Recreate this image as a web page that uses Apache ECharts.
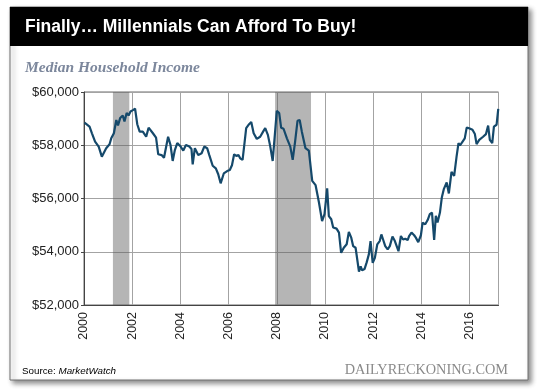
<!DOCTYPE html>
<html>
<head>
<meta charset="utf-8">
<script src="https://cdn.jsdelivr.net/npm/echarts@6/dist/echarts.min.js"></script>
<style>
html,body{margin:0;padding:0;background:#fff;}
#chart{width:540px;height:389px;}
</style>
</head>
<body>
<div id="chart"></div>
<script>
// Decimal years (x)
const years = [
2000.02,2000.23,2000.33,2000.46,2000.61,2000.74,2000.81,2000.92,2001.06,2001.13,
2001.24,2001.34,2001.41,2001.50,2001.61,2001.68,2001.77,2001.85,2001.93,2002.03,
2002.12,2002.21,2002.31,2002.44,2002.58,2002.68,2002.86,2002.99,2003.08,2003.22,
2003.32,2003.49,2003.59,2003.68,2003.77,2003.87,2004.01,2004.12,2004.23,2004.37,
2004.46,2004.51,2004.60,2004.74,2004.88,2004.99,2005.11,2005.20,2005.34,2005.47,
2005.57,2005.67,2005.80,2005.94,2006.05,2006.14,2006.23,2006.32,2006.41,2006.48,
2006.58,2006.66,2006.73,2006.85,2006.94,2007.04,2007.17,2007.31,2007.45,2007.52,
2007.63,2007.73,2007.83,2007.93,2008.00,2008.10,2008.18,2008.28,2008.42,2008.56,
2008.66,2008.76,2008.86,2008.95,2009.04,2009.19,2009.33,2009.47,2009.61,2009.75,
2009.88,2009.98,2010.09,2010.16,2010.26,2010.34,2010.48,2010.58,2010.67,2010.78,
2010.90,2010.99,2011.09,2011.17,2011.27,2011.41,2011.48,2011.54,2011.64,2011.73,
2011.82,2011.89,2011.98,2012.07,2012.17,2012.27,2012.34,2012.41,2012.50,2012.60,
2012.69,2012.80,2012.90,2012.97,2013.05,2013.15,2013.24,2013.33,2013.43,2013.49,
2013.59,2013.70,2013.77,2013.87,2013.98,2014.05,2014.16,2014.26,2014.35,2014.44,
2014.53,2014.60,2014.67,2014.77,2014.85,2014.93,2015.05,2015.14,2015.25,2015.36,
2015.46,2015.54,2015.60,2015.71,2015.80,2015.88,2015.98,2016.12,2016.22,2016.29,
2016.40,2016.56,2016.68,2016.77,2016.84,2016.94,2017.01,2017.12,2017.19
];
// Median household income (USD)
const income = [
58850,58700,58450,58140,57950,57570,57530,57890,58040,58260,
58450,58950,58740,59020,59120,58890,59210,59120,59270,59320,
59370,58790,58510,58510,58320,58660,58450,58290,57660,57630,
57530,58320,58010,57410,57820,58080,57950,57800,58010,57950,
57860,57280,57890,57630,57700,57950,57890,57630,57230,57130,
56910,56570,56940,57030,57070,57250,57660,57600,57630,57510,
57450,58080,58640,58790,58870,58450,58240,58320,58540,58640,
58390,57950,57410,58510,59290,59210,58660,58620,58260,57950,
57450,58140,58920,58950,58510,57890,57800,56660,56500,55850,
55150,55410,56380,55340,55220,54910,54870,54720,53960,54150,
54280,54740,54530,54210,54150,53250,53450,53300,53350,53600,
53900,54400,53580,53770,54280,54400,54650,54460,54210,54090,
54210,54570,54400,54360,54020,54590,54460,54490,54440,54590,
54720,54620,54530,54360,54620,55090,55030,55190,55410,55470,
54440,55350,55100,55470,56050,56350,56600,56190,57000,56850,
57570,58080,57990,58140,58260,58660,58640,58580,58420,58040,
58200,58320,58420,58740,58200,58080,58700,58770,59370
];
// Recessions (shaded)
const recessionStart = [2001.2, 2007.93];
const recessionEnd   = [2001.88, 2009.42];
// Axis ticks
const yearTicks = [2000,2002,2004,2006,2008,2010,2012,2014,2016];
const incomeTicks = [52000,54000,56000,58000,60000];

const titleText = 'Finally\u2026 Millennials Can Afford To Buy!';
const subtitleText = 'Median Household Income';

const chart = echarts.init(document.getElementById('chart'), null, {renderer:'canvas'});

const seriesData = years.map((y,i)=>[y, income[i]]);
const areas = recessionStart.map((s,i)=>[{xAxis:s},{xAxis:recessionEnd[i]}]);

const option = {
  animation:false,
  backgroundColor:'#fff',
  graphic:[
    {type:'rect', z:-20, silent:true,
     shape:{x:10,y:7,width:518,height:373},
     style:{fill:'#fff', stroke:'#707070', lineWidth:1,
            shadowBlur:5, shadowOffsetX:3, shadowOffsetY:3, shadowColor:'rgba(0,0,0,0.45)'}},
    {type:'rect', z:-19, silent:true,
     shape:{x:10,y:7,width:518,height:39},
     style:{fill:'#000'}},
    {type:'text', z:10, silent:true,
     style:{x:25, y:27, text:titleText, fill:'#fff',
            font:'bold 17.5px "Liberation Sans", Arial, sans-serif',
            textVerticalAlign:'middle'}},
    {type:'text', z:10, silent:true,
     style:{x:25, y:68, text:subtitleText, fill:'#7c879c',
            font:'italic bold 15.5px "Liberation Serif", "Times New Roman", serif',
            textVerticalAlign:'middle'}},
    {type:'text', z:10, silent:true,
     style:{x:22, y:371, text:'{a|Source: }{b|MarketWatch}',
            textVerticalAlign:'middle',
            rich:{a:{fontFamily:'"Liberation Sans", Arial, sans-serif', fontSize:9.8, color:'#111'},
                  b:{fontFamily:'"Liberation Sans", Arial, sans-serif', fontSize:9.8, fontStyle:'italic', color:'#111'}}}},
    {type:'text', z:10, silent:true,
     style:{x:508, y:370, text:'DAILYRECKONING.COM', fill:'#8a8a8a',
            font:'14.3px "Liberation Serif", "Times New Roman", serif',
            textAlign:'right', textVerticalAlign:'middle'}}
  ],
  grid:{left:84, top:92, width:414.5, height:213, show:true, borderColor:'#6a6a6a', borderWidth:1, backgroundColor:'transparent'},
  xAxis:{
    type:'value', min:2000, max:2017.2, interval:2,
    axisLine:{show:true, onZero:false, lineStyle:{color:'#444', width:1}},
    axisTick:{show:false},
    splitLine:{show:true, lineStyle:{color:'#a3a3a3', width:1}},
    axisLabel:{rotate:90, margin:7, color:'#222', fontSize:12.5,
      fontFamily:'"Liberation Sans", Arial, sans-serif',
      showMaxLabel:false,
      formatter:v => yearTicks.indexOf(v) >= 0 ? String(v) : ''}
  },
  yAxis:{
    type:'value', min:incomeTicks[0], max:incomeTicks[incomeTicks.length-1], interval:2000,
    axisLine:{show:true, lineStyle:{color:'#444', width:1}},
    axisTick:{show:true, length:3, lineStyle:{color:'#444'}},
    splitLine:{show:true, lineStyle:{color:'#a3a3a3', width:1}},
    axisLabel:{margin:5, color:'#222', fontSize:13,
      fontFamily:'"Liberation Sans", Arial, sans-serif',
      formatter:v => '$' + Math.floor(v/1000) + ',' + String(v%1000).padStart(3,'0')}
  },
  series:[{
    type:'line',
    data:seriesData,
    showSymbol:false,
    lineStyle:{color:'#15496b', width:2.2},
    z:5,
    markArea:{silent:true, itemStyle:{color:'rgba(90,90,90,0.45)'}, data:areas}
  }]
};
chart.setOption(option);
</script>
</body>
</html>
